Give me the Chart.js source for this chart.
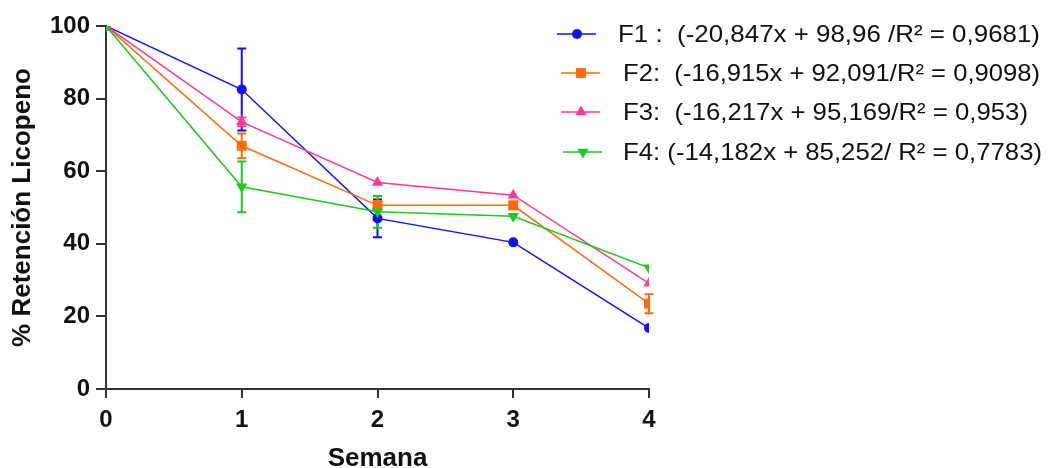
<!DOCTYPE html>
<html>
<head>
<meta charset="utf-8">
<script src="https://cdn.jsdelivr.net/npm/chart.js@4.4.1/dist/chart.umd.min.js"></script>
<style>
  html, body { margin: 0; padding: 0; background: #ffffff; }
  #wrap { width: 1050px; height: 468px; position: relative; }
</style>
</head>
<body>
<div id="wrap"><canvas id="c" width="1050" height="468"></canvas></div>
<script>
// ---- data ----
const semanas = [0, 1, 2, 3, 4];
const yTicks = [0, 20, 40, 60, 80, 100];
const seriesNames = [
  "F1 :  (-20,847x + 98,96 /R\u00B2 = 0,9681)",
  "F2:  (-16,915x + 92,091/R\u00B2 = 0,9098)",
  "F3:  (-16,217x + 95,169/R\u00B2 = 0,953)",
  "F4: (-14,182x + 85,252/ R\u00B2 = 0,7783)"
];
const f1 = [100, 82.5, 47.0, 40.4, 16.8];
const f2 = [100, 67.0, 50.6, 50.6, 23.5];
const f3 = [100, 73.6, 56.9, 53.4, 29.1];
const f4 = [100, 55.7, 48.8, 47.6, 33.4];
const f1Err = [0, 11.3, 5.2, 0, 0];
const f2Err = [0, 3.4, 1.2, 1.0, 2.6];
const f3Err = [0, 1.2, 0, 0, 0];
const f4Err = [0, 7.0, 4.4, 0, 0];

const colors = ['#1010f5', '#ff6a0a', '#ff3a95', '#1ec81e'];
const styles = ['circle', 'rect', 'triangle', 'triangle'];
const rotations = [0, 0, 0, 180];
const radii = [5, 7, 6.5, 6.5];

const values = [f1, f2, f3, f4];
const errors = [f1Err, f2Err, f3Err, f4Err];

const datasets = values.map((v, i) => ({
  label: seriesNames[i],
  data: semanas.map((x, j) => ({x: x, y: v[j]})),
  errors: errors[i],
  borderColor: colors[i],
  backgroundColor: colors[i],
  borderWidth: 1.5,
  pointStyle: styles[i],
  pointRotation: rotations[i],
  pointRadius: radii[i],
  pointBorderWidth: 0,
  pointBackgroundColor: colors[i],
  tension: 0,
  order: 3 - i
}));

const errorBars = {
  id: 'errorBars',
  beforeDatasetsDraw(chart) {
    const ctx = chart.ctx;
    const xs = chart.scales.x, ys = chart.scales.y;
    chart.data.datasets.forEach((ds) => {
      ctx.save();
      ctx.strokeStyle = ds.borderColor;
      ctx.lineWidth = 2;
      ds.data.forEach((p, j) => {
        const e = ds.errors[j];
        if (!e) return;
        const px = xs.getPixelForValue(p.x);
        const top = ys.getPixelForValue(p.y + e);
        const bot = ys.getPixelForValue(p.y - e);
        ctx.beginPath();
        ctx.moveTo(px, top); ctx.lineTo(px, bot);
        ctx.moveTo(px - 4.5, top); ctx.lineTo(px + 4.5, top);
        ctx.moveTo(px - 4.5, bot); ctx.lineTo(px + 4.5, bot);
        ctx.stroke();
      });
      ctx.restore();
    });
  }
};

const customLegend = {
  id: 'customLegend',
  afterDraw(chart) {
    const ctx = chart.ctx;
    const rowsY = [34, 73, 112, 152];
    const lineX0 = [557, 561, 561, 563];
    const textX = [618, 623, 623, 623];
    const textEnd = [1040, 1040, 1028, 1042];
    chart.data.datasets.forEach((ds, i) => {
      const y = rowsY[i];
      ctx.save();
      ctx.strokeStyle = ds.borderColor;
      ctx.lineWidth = 1.5;
      ctx.beginPath();
      ctx.moveTo(lineX0[i], y);
      ctx.lineTo(lineX0[i] + 39, y);
      ctx.stroke();
      ctx.fillStyle = ds.backgroundColor;
      Chart.helpers.drawPoint(ctx, {pointStyle: ds.pointStyle, radius: ds.pointRadius, rotation: ds.pointRotation, borderWidth: 0}, lineX0[i] + 20, y);
      ctx.fillStyle = '#111111';
      ctx.font = '24px "Liberation Sans", Arial, sans-serif';
      ctx.textBaseline = 'middle';
      ctx.textAlign = 'left';
      const w = ctx.measureText(ds.label).width;
      const target = textEnd[i] - textX[i];
      ctx.translate(textX[i], y + 1);
      ctx.scale(target / w, 1);
      ctx.fillText(ds.label, 0, 0);
      ctx.restore();
    });
  }
};

const tickFont = {family: '"Liberation Sans", Arial, sans-serif', size: 24, weight: 'bold'};
const titleFont = {family: '"Liberation Sans", Arial, sans-serif', size: 26, weight: 'bold'};

new Chart(document.getElementById('c'), {
  type: 'line',
  data: { datasets: datasets },
  options: {
    responsive: false,
    animation: false,
    devicePixelRatio: 1,
    layout: { padding: { top: 26, right: 401, left: 0, bottom: 0 } },
    plugins: { legend: { display: false }, tooltip: { enabled: false } },
    scales: {
      x: {
        type: 'linear',
        min: 0, max: 4,
        afterBuildTicks(scale) { scale.ticks = semanas.map(v => ({value: v})); },
        afterFit(scale) { scale.height = 79; },
        ticks: { color: '#111', font: tickFont, padding: 8, maxRotation: 0 },
        grid: { drawOnChartArea: false, drawTicks: true, tickLength: 9, color: '#333', lineWidth: 2 },
        border: { display: true, color: '#333', width: 2 },
        title: { display: true, text: 'Semana', color: '#111', font: Object.assign({}, titleFont, {lineHeight: 0.72}), padding: {top: 0, bottom: 0} }
      },
      y: {
        min: 0, max: 100,
        afterBuildTicks(scale) { scale.ticks = yTicks.map(v => ({value: v})); },
        afterFit(scale) { scale.width = 106; },
        ticks: { color: '#111', font: tickFont, padding: 6 },
        grid: { drawOnChartArea: false, drawTicks: true, tickLength: 10, color: '#333', lineWidth: 2 },
        border: { display: true, color: '#333', width: 2 },
        title: { display: true, text: '% Retención Licopeno', color: '#111', font: Object.assign({}, titleFont, {lineHeight: 1.2}), padding: {top: 7, bottom: 0} }
      }
    }
  },
  plugins: [errorBars, customLegend]
});
</script>
</body>
</html>
